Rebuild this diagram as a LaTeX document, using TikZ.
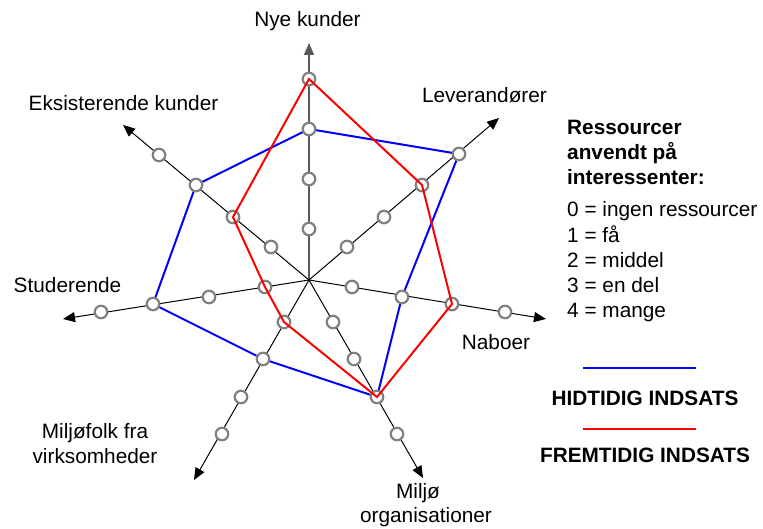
\documentclass[tikz,border=0pt]{standalone}
\usepackage{fontspec}
\setmainfont{Liberation Sans}
\usetikzlibrary{arrows.meta}
\begin{document}
\begin{tikzpicture}[x=1pt,y=-1pt,
  axis/.style={line width=1pt,draw=black,-{Triangle[length=12pt,width=10pt]}},
  vaxis/.style={line width=1.6pt,draw=black!65,-{Triangle[length=12pt,width=10pt]}},
  dot/.style={circle,draw=black!50,line width=2.2pt,fill=white,minimum size=12.5pt,inner sep=0pt},
  lbl/.style={font=\fontsize{20.8}{25}\selectfont,inner sep=0pt,anchor=base},
  leg/.style={font=\fontsize{20.8}{25}\selectfont,inner sep=0pt,anchor=base west},
  legb/.style={font=\fontsize{20.8}{25}\selectfont\bfseries,inner sep=0pt,anchor=base west},
  legc/.style={font=\fontsize{20.8}{25}\selectfont\bfseries,inner sep=0pt,anchor=base},
  hid/.style={draw=blue,line width=2pt,line join=miter},
  frem/.style={draw=red,line width=2pt,line join=miter}]
\useasboundingbox (0,0) rectangle (763,529);
\coordinate (O) at (309,280);
% axis tips
\coordinate (tN) at (309,43);
\coordinate (tL) at (499,118);
\coordinate (tE) at (123,125);
\coordinate (tS) at (63,319);
\coordinate (tB) at (546,319);
\coordinate (tF) at (194,480);
\coordinate (tM) at (423,478);
% axes
\draw[vaxis] (O) -- (tN);
\draw[axis] (O) -- (tL);
\draw[axis] (O) -- (tE);
\draw[axis] (O) -- (tS);
\draw[axis] (O) -- (tB);
\draw[axis] (O) -- (tF);
\draw[axis] (O) -- (tM);
% level positions
\coordinate (N1) at (309,229); \coordinate (N2) at (309,179); \coordinate (N3) at (309,129); \coordinate (N4) at (309,79);
\coordinate (L1) at (347,247); \coordinate (L2) at (384,217); \coordinate (L3) at (422,185); \coordinate (L4) at (459,154);
\coordinate (E1) at (271,247); \coordinate (E2) at (233,217); \coordinate (E3) at (196,185); \coordinate (E4) at (159,155);
\coordinate (S1) at (265,287); \coordinate (S2) at (209,297); \coordinate (S3) at (153,304); \coordinate (S4) at (101,312);
\coordinate (B1) at (352,287); \coordinate (B2) at (402,297); \coordinate (B3) at (452,304); \coordinate (B4) at (505,312);
\coordinate (F1) at (284,322); \coordinate (F2) at (263,359); \coordinate (F3) at (241,397); \coordinate (F4) at (222,434);
\coordinate (M1) at (333,322); \coordinate (M2) at (354,359); \coordinate (M3) at (377,397); \coordinate (M4) at (397,434);
% hidtidig (blue)
\draw[hid] (N3) -- (L4) -- (B2) -- (M3) -- (F2) -- (S3) -- (E3) -- cycle;
% circles
\foreach \a in {N,L,E,S,B,F,M}{
  \foreach \i in {1,2,3,4}{
    \node[dot] (d\a\i) at (\a\i) {};
  }
}
% fremtidig (red)
\draw[frem] (N4) -- (L3) -- (B3) -- (M3) -- (F1) -- (S1) -- (E2) -- cycle;
% axis labels
\node[lbl] (lN) at (307.5,27) {Nye kunder};
\node[lbl] (lL) at (484.5,103) {Leverandører};
\node[lbl] (lE) at (123.5,111) {Eksisterende kunder};
\node[lbl] (lS) at (67.5,293) {Studerende};
\node[lbl] (lB) at (496,349) {Naboer};
\node[lbl] (lF1) at (95,438) {Miljøfolk fra};
\node[lbl] (lF2) at (95,463) {virksomheder};
\node[lbl] (lM1) at (418,498) {Miljø};
\node[lbl] (lM2) at (426,522) {organisationer};
% legend
\node[legb] (t1) at (567,135) {Ressourcer};
\node[legb] (t2) at (567,160) {anvendt på};
\node[legb] (t3) at (567,185) {interessenter:};
\node[leg] (k0) at (567,217) {0 = ingen ressourcer};
\node[leg] (k1) at (567,242.5) {1 = få};
\node[leg] (k2) at (567,267.5) {2 = middel};
\node[leg] (k3) at (567,292.5) {3 = en del};
\node[leg] (k4) at (567,318) {4 = mange};
\coordinate (hA) at (583,368); \coordinate (hB) at (696,368);
\draw[draw=blue,line width=2pt] (hA) -- (hB);
\node[legc] (hT) at (645,405) {HIDTIDIG INDSATS};
\coordinate (fA) at (583,429); \coordinate (fB) at (696,429);
\draw[draw=red,line width=2pt] (fA) -- (fB);
\node[legc] (fT) at (645,462) {FREMTIDIG INDSATS};
\end{tikzpicture}
\end{document}
